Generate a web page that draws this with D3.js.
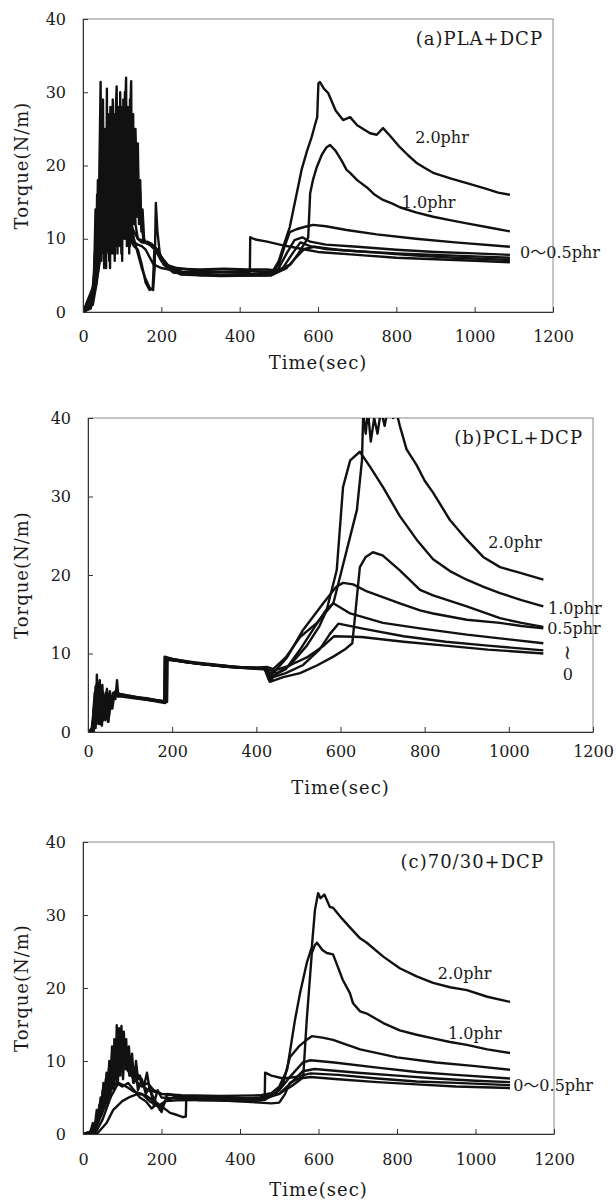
<!DOCTYPE html>
<html>
<head>
<meta charset="utf-8">
<script src="https://cdn.jsdelivr.net/npm/d3@7"></script>
<style>
  body { margin: 0; background: #fff; }
  svg text { font-family: "DejaVu Serif", "Noto Sans CJK JP", serif; fill: #1a1a1a; }
  .axis text { font-size: 16px; }
  .axis path, .axis line { stroke: #333; }
  .frame { fill: none; stroke: #8a8a8a; stroke-width: 1; }
  .curve { fill: none; stroke: #111; stroke-width: 2.4; stroke-linejoin: round; }
  .axis-title { font-size: 18px; letter-spacing: 1px; }
  .panel-title { font-size: 18px; letter-spacing: 1px; }
  .note { font-size: 16px; }
  .note.squiggle { font-size: 20px; }
</style>
</head>
<body>
<svg id="chart" width="616" height="1200"></svg>
<script>
// tick labels shared by all three panels
const timeTicks = [0, 200, 400, 600, 800, 1000, 1200];
const torqueTicks = [0, 10, 20, 30, 40];

// (a) PLA + DCP : [time (sec), torque (N/m)]
const plaDcp20 = [[0,0],[10,0.3],[20,1.5],[26,3],[30,8],[33,4],[36,16],[39,6],[42,20],[45,31.4],[47,7],[50,22],[53,8],[56,24],[59,6],[61,30.5],[63,9],[66,25],[69,6],[72,27],[75,8],[78,26],[81,7],[84,28],[86,30.8],[88,8],[91,27],[94,9],[97,28],[100,7],[103,29],[106,10],[108,28],[110,32],[112,9],[115,27],[118,8],[121,28],[123,31.5],[125,10],[128,27],[131,12],[134,25],[137,13],[140,23],[143,12],[146,18],[149,11],[152,14],[156,10],[160,9.5],[170,9.2],[180,8.7],[190,8],[200,7],[215,6.3],[240,5.9],[300,5.8],[360,5.9],[420,5.8],[470,5.8],[486,5.7],[500,7],[515,9.5],[528,11.6],[543,15.5],[558,19.4],[572,22],[584,23.9],[592,25.5],[598,26.6],[601,31.2],[605,31.4],[615,30.5],[626,29.9],[645,27.5],[664,26.2],[682,26.6],[700,25.5],[733,24.4],[750,24.2],[766,25.1],[785,24],[809,22.5],[830,21.4],[853,20.3],[875,19.6],[894,19],[940,18.2],[980,17.6],[1030,16.8],[1060,16.3],[1090,16]];
const plaDcp10 = [[0,0],[20,0.5],[28,4],[32,14],[35,5],[38,18],[41,8],[44,22],[48,10],[51,29],[54,6],[57,25],[60,9],[64,27],[67,7],[70,28],[73,10],[76,29],[79,8],[82,27],[85,9],[89,28],[92,11],[95,30],[98,8],[101,27],[104,11],[107,30],[111,10],[114,28],[117,12],[120,29],[124,13],[127,26],[130,14],[133,24],[136,15],[139,22],[142,14],[145,17],[150,12],[155,9.5],[165,9.6],[175,9.3],[185,8.8],[195,8],[210,6.5],[240,6],[300,5.6],[360,5.5],[420,5.6],[470,5.5],[500,5.8],[530,6.5],[550,8],[565,9.3],[575,10.2],[580,16.2],[587,18],[597,19.8],[610,21.5],[622,22.5],[631,22.8],[645,22],[660,20.7],[673,19.4],[682,19],[700,18],[725,17],[745,16],[766,15.3],[790,14.8],[809,14.3],[850,13.6],[894,13],[940,12.5],[980,12.1],[1040,11.5],[1090,11]];
const plaDcp05 = [[0,0],[20,1],[30,6],[34,12],[38,8],[42,15],[46,10],[50,18],[54,12],[58,21],[62,14],[66,23],[70,15],[74,24],[78,16],[82,25],[86,17],[90,24],[94,18],[98,26],[102,17],[106,25],[110,18],[114,24],[118,16],[122,22],[126,14],[130,18],[134,12],[140,10],[150,9.5],[160,9.4],[170,9.2],[180,9],[190,8.5],[200,7.5],[220,6.2],[260,5.3],[350,5.1],[430,5.2],[480,5.4],[500,6.5],[515,9],[528,10.9],[545,11.3],[565,11.6],[587,11.9],[620,11.7],[673,11.2],[750,10.6],[850,10],[950,9.5],[1090,8.9]];
const plaDcp03 = [[0,0],[20,0.8],[30,5],[40,10],[44,14],[48,9],[52,17],[56,11],[60,20],[64,12],[68,22],[72,13],[76,21],[80,12],[84,22],[88,14],[92,20],[96,12],[100,19],[104,11],[108,17],[112,10],[116,15],[120,9],[124,12],[130,10],[140,8],[150,6],[160,4.5],[170,3.3],[179,3],[183,6],[186,14.9],[190,11],[196,8],[205,6.5],[230,5.4],[300,5],[400,5.1],[470,5],[500,6],[520,8],[540,9.8],[560,10.2],[580,9.6],[620,9.2],[700,8.9],[800,8.5],[900,8.2],[1000,8],[1090,7.8]];
const plaDcp02 = [[0,0],[25,1],[35,4],[45,8],[55,12],[65,9],[75,15],[85,11],[95,16],[105,12],[115,14],[120,10],[130,9],[140,8.5],[150,6.5],[160,4],[170,3],[178,3.2],[182,8.3],[190,8.5],[200,7.5],[220,6],[250,5.1],[350,4.9],[480,5],[510,6],[535,8],[555,9.5],[580,9],[620,8.6],[700,8.3],[800,8],[900,7.8],[1000,7.6],[1090,7.4]];
const plaDcp01 = [[0,0],[30,4],[40,8],[50,13],[60,10],[70,16],[80,12],[90,17],[100,13],[110,14],[120,12],[130,11],[140,10],[150,9.8],[160,9.5],[170,9.3],[180,9],[190,8],[200,7],[220,6],[260,5.2],[350,5],[480,5],[520,6],[545,7.5],[565,8.6],[590,8.9],[650,8.5],[750,8.1],[850,7.7],[950,7.4],[1090,7.1]];
const plaDcp00 = [[0,0],[30,3],[40,6],[50,10],[60,8],[70,12],[80,9],[90,12],[100,10],[110,11],[120,10],[130,9.5],[140,9.2],[150,9],[160,8.5],[170,7.5],[180,6.5],[200,6],[250,5.5],[300,5.4],[426,5.5],[427,10.2],[440,9.9],[470,9.6],[511,9.1],[540,8.8],[570,8.5],[600,8.2],[700,7.8],[800,7.4],[900,7.2],[1000,7],[1090,6.8]];

// (b) PCL + DCP
const pclDcp20 = [[0,0],[8,0],[12,2],[16,5],[19,1],[21,7.3],[24,3],[28,6.6],[31,2],[35,5],[39,3],[43,4.5],[48,1.3],[52,4],[56,3.5],[60,5],[65,4.2],[69,6.6],[72,4.5],[80,4.8],[100,4.6],[120,4.4],[140,4.3],[160,4.1],[181,3.9],[182,9.6],[200,9.3],[250,8.9],[300,8.6],[350,8.3],[400,8.2],[425,8.3],[440,8],[470,9.5],[504,12.1],[544,13.9],[583,16.4],[615,23.2],[639,28.3],[651,34.6],[654,40.5],[660,38],[665,41],[672,37],[680,40],[688,38],[696,41],[705,39],[715,42],[725,40],[734,40.5],[741,39],[757,36],[781,34],[800,32],[820,30.5],[860,27],[900,24.5],[939,22.3],[979,21],[1019,20.4],[1082,19.4]];
const pclDcp10 = [[0,0],[10,0],[14,3],[17,1],[20,6],[23,2.5],[27,5.5],[30,1.5],[34,6],[38,2],[42,5],[46,2.5],[50,4.5],[55,3],[60,4.8],[70,4.9],[90,4.7],[110,4.5],[130,4.3],[150,4.1],[170,3.9],[187,3.8],[188,9.4],[210,9.1],[260,8.7],[310,8.5],[360,8.2],[410,8.1],[430,7.9],[450,7.5],[480,8.5],[520,11],[550,13.5],[567,15.5],[591,20.6],[606,31.2],[623,34.6],[646,35.7],[670,33.8],[701,31.2],[741,27.5],[781,24.5],[820,22],[860,20.5],[900,19.4],[940,18.5],[979,17.7],[1030,16.8],[1082,16]];
const pclDcp05 = [[0,0],[12,0],[15,4],[18,0.5],[22,5],[26,1],[30,4.5],[33,0.8],[37,3.8],[41,1.5],[45,5.5],[50,2],[54,4.2],[58,3],[63,5],[75,4.6],[95,4.5],[120,4.3],[150,4],[183,3.7],[184,9.5],[200,9.2],[250,8.8],[300,8.5],[350,8.2],[420,8.1],[432,6.4],[464,7],[504,7.5],[545,8.5],[583,9.6],[610,10.5],[628,11.3],[635,15],[646,21],[660,22.3],[677,22.9],[700,22.5],[741,20.6],[789,18.1],[820,17.4],[900,16],[979,14.5],[1030,13.9],[1082,13.4]];
const pclDcp03 = [[0,0],[10,0.5],[14,2.5],[18,5.8],[21,2],[25,4.5],[29,1],[33,5.2],[37,2.2],[42,4.8],[47,3],[52,5.2],[57,3.8],[64,4.9],[80,4.7],[110,4.4],[140,4.2],[170,4],[186,3.9],[187,9.2],[220,9],[270,8.7],[320,8.4],[380,8.2],[420,8.2],[432,7.5],[440,7.5],[473,9.5],[511,13],[559,16.4],[590,18.5],[606,19],[630,18.8],[663,17.9],[741,16.4],[789,15.5],[820,15.1],[900,14.3],[979,13.9],[1030,13.5],[1082,13.2]];
const pclDcp02 = [[0,0],[11,0],[15,3.5],[19,1.5],[23,6.2],[27,2.5],[31,4],[36,1.8],[40,4.6],[44,2],[48,1.3],[53,3.8],[58,4.4],[65,5.2],[75,4.8],[100,4.5],[130,4.3],[160,4],[185,3.9],[186,9.4],[230,8.9],[280,8.6],[330,8.3],[380,8.1],[420,8],[430,6.6],[440,7.2],[470,8],[504,10.5],[540,13.5],[565,15.5],[583,16.4],[623,15.1],[701,13.9],[789,13.2],[900,12.4],[1000,11.8],[1082,11.3]];
const pclDcp01 = [[0,0],[13,0],[17,2],[21,4.8],[25,1.2],[29,3.5],[33,2.5],[38,4.4],[43,3.2],[49,4.6],[55,3.6],[62,4.7],[80,4.6],[110,4.4],[140,4.2],[170,4],[182,3.9],[183,9.5],[230,9],[280,8.6],[330,8.4],[380,8.2],[425,8],[435,6.5],[440,7],[470,7.5],[510,8.5],[550,10.5],[575,12.5],[595,13.8],[650,13.2],[750,12.2],[850,11.5],[950,11],[1082,10.4]];
const pclDcp00 = [[0,0],[12,0],[16,3],[20,1],[24,5],[28,2],[32,3.8],[36,1.5],[40,4],[45,2.8],[50,4.8],[56,3.5],[62,4.6],[80,4.5],[110,4.3],[140,4.1],[170,3.9],[188,3.9],[189,9.3],[230,8.9],[280,8.6],[330,8.3],[380,8.2],[420,8.1],[432,6.8],[440,7.8],[480,8.5],[520,9.5],[560,11],[585,12.2],[650,12.1],[750,11.5],[850,11],[950,10.5],[1082,10]];

// (c) 70/30 blend + DCP
const blendDcp20 = [[0,0],[15,0],[20,0.5],[25,1.5],[30,1],[35,3.3],[40,2.5],[45,5],[48,3],[52,7],[55,4],[60,8.4],[63,5],[67,10],[70,6],[74,12],[77,7],[80,13],[83,8],[86,14.9],[89,7],[92,14.5],[95,9],[98,14.8],[101,8],[104,14],[107,10],[110,13],[113,9],[117,12],[121,8],[125,11],[130,7],[135,10],[140,7.5],[145,8],[155,6.5],[165,6],[180,5.8],[200,5.5],[250,5.3],[350,5.2],[450,5.3],[480,5.6],[500,6.5],[520,8.8],[540,15.6],[553,19.3],[570,23.4],[583,25.6],[591,30.7],[599,33],[605,32.3],[615,32.8],[629,31.1],[637,31],[660,29.5],[680,28.3],[706,26.8],[723,26.2],[765,24.3],[807,22.7],[850,21.6],[892,20.7],[935,20.1],[978,19.7],[1030,18.8],[1088,18.1]];
const blendDcp10 = [[0,0],[20,0],[30,1.5],[36,2],[42,4],[46,2.5],[50,6],[54,3.5],[58,7.5],[62,4],[66,9],[70,5],[74,11],[78,6],[82,12.5],[86,7],[90,13.5],[94,8],[98,13],[102,7.5],[106,12.5],[110,9],[114,11.5],[118,8],[122,10.5],[128,7],[134,9],[140,6],[150,7.5],[160,5.5],[170,6.5],[180,4],[190,6],[200,5],[260,4.8],[350,4.7],[450,5],[500,5.5],[530,6.5],[550,7.3],[561,7.8],[570,15.6],[583,24.8],[591,25.9],[596,26.2],[610,25.2],[621,24.8],[637,24.6],[650,22.8],[662,21.1],[680,19.3],[688,17.9],[706,16.8],[723,16.5],[765,15.2],[807,14.2],[850,13.6],[892,13.1],[935,12.6],[978,12.2],[1030,11.6],[1088,11.1]];
const blendDcp05 = [[0,0],[30,0.5],[45,3],[55,4],[65,6],[75,8],[85,9.5],[95,10.5],[105,11],[115,10],[125,9.5],[135,8.5],[145,7.5],[155,6.5],[163,8.4],[170,6],[180,5],[196,3.3],[210,4.5],[230,5],[300,5],[400,4.9],[450,4.8],[490,5.5],[510,7],[527,10.5],[550,12],[570,12.9],[583,13.4],[610,13.2],[637,12.9],[706,11.6],[800,10.5],[900,9.8],[1000,9.3],[1088,8.8]];
const blendDcp03 = [[0,0],[25,0],[40,2],[55,4],[70,6],[85,7],[100,6.5],[115,7],[130,6],[145,5],[160,4.5],[175,3.5],[190,4.2],[200,3],[215,5.5],[240,5.2],[350,4.8],[450,4.6],[464,4.7],[500,6],[530,8],[560,9.8],[580,10.1],[640,9.8],[750,9.1],[850,8.5],[950,8.1],[1088,7.6]];
const blendDcp02 = [[0,0],[35,0],[60,1.5],[77,3.3],[100,4.5],[120,5.1],[140,5.5],[160,5.3],[180,4.5],[200,3.8],[222,2.9],[240,2.6],[255,2.3],[262,2.4],[263,4.8],[300,4.6],[400,4.5],[450,4.6],[500,5.5],[530,7],[560,8.6],[590,8.9],[700,8.4],[800,8],[900,7.6],[1000,7.3],[1088,7.1]];
const blendDcp01 = [[0,0],[30,0],[50,2],[70,5],[90,7],[110,6.5],[130,5.8],[150,5.5],[170,4.5],[190,3.8],[210,4.5],[240,4.6],[350,4.7],[463,4.8],[464,8.4],[480,8],[510,7.6],[540,7.8],[580,8.3],[650,8.1],[750,7.6],[850,7.2],[950,7],[1088,6.7]];
const blendDcp00 = [[0,0],[30,0.5],[50,3],[70,6],[90,8.5],[110,9],[130,7.5],[150,6.5],[165,7],[180,6],[200,5.5],[250,5.2],[350,4.6],[450,4.3],[480,4.2],[500,4.3],[515,5.5],[527,7],[550,7.6],[580,7.8],[650,7.5],[750,7.1],[850,6.8],[950,6.5],[1088,6.3]];

// curve annotations: [text, time, torque]; '∼' is drawn turned upright
const plaNotes = [['2.0phr', 848, 23.9], ['1.0phr', 814, 15], ['0～0.5phr', 1116, 8.2]];
const pclNotes = [['2.0phr', 951, 24.2], ['1.0phr', 1093, 15.8], ['0.5phr', 1091, 13.2], ['∼', 1140, 10.1], ['0', 1140, 7.3]];
const blendNotes = [['2.0phr', 904, 22], ['1.0phr', 930, 13.8], ['0～0.5phr', 1096, 6.7]];


class torquePanel {

    constructor(_config, _series, _notes) {
      this.config = {
        parentElement: _config.parentElement,
        id: _config.id,
        left: _config.left,
        top: _config.top,
        width: _config.width,
        height: _config.height,
        tickGap: _config.tickGap || 20,
        titleGap: _config.titleGap || 48,
        title: _config.title
      }
      this.series = _series;
      this.notes = _notes;
      this.initVis();
    }

    initVis() {
        let vis = this;

        vis.xScale = d3.scaleLinear()
            .domain([0, 1200])
            .range([0, vis.config.width]);

        vis.yScale = d3.scaleLinear()
            .domain([0, 40])
            .range([vis.config.height, 0]);

        // ticks point into the plot
        vis.xAxis = d3.axisBottom(vis.xScale)
            .tickValues(timeTicks)
            .tickFormat(d3.format('d'))
            .tickSizeInner(-5)
            .tickSizeOuter(0)
            .tickPadding(vis.config.tickGap);

        vis.yAxis = d3.axisLeft(vis.yScale)
            .tickValues(torqueTicks)
            .tickFormat(d3.format('d'))
            .tickSizeInner(-5)
            .tickSizeOuter(0)
            .tickPadding(17);

        vis.chart = d3.select(vis.config.parentElement).append('g')
            .attr('transform', `translate(${vis.config.left},${vis.config.top})`);

        vis.chart.append('clipPath')
            .attr('id', 'clip-' + vis.config.id)
          .append('rect')
            .attr('width', vis.config.width)
            .attr('height', vis.config.height);

        vis.line = d3.line()
            .x(d => vis.xScale(d[0]))
            .y(d => vis.yScale(d[1]));

        vis.renderVis();
    }

    renderVis() {
        let vis = this;

        vis.chart.append('rect')
            .attr('class', 'frame')
            .attr('width', vis.config.width)
            .attr('height', vis.config.height);

        vis.chart.append('g')
            .attr('clip-path', `url(#clip-${vis.config.id})`)
          .selectAll('path')
          .data(vis.series)
          .enter().append('path')
            .attr('class', 'curve')
            .attr('d', d => vis.line(d));

        vis.chart.append('g')
            .attr('class', 'axis x-axis')
            .attr('transform', `translate(0,${vis.config.height})`)
            .call(vis.xAxis);

        vis.chart.append('g')
            .attr('class', 'axis y-axis')
            .call(vis.yAxis);

        vis.chart.append('text')
            .attr('class', 'axis-title')
            .attr('x', vis.config.width / 2)
            .attr('y', vis.config.height + vis.config.titleGap)
            .attr('text-anchor', 'middle')
            .text('Time(sec)');

        vis.chart.append('text')
            .attr('class', 'axis-title')
            .attr('transform', `translate(${22 - vis.config.left},${vis.config.height / 2}) rotate(-90)`)
            .attr('text-anchor', 'middle')
            .attr('dy', '0.35em')
            .text('Torque(N/m)');

        vis.chart.append('text')
            .attr('class', 'panel-title')
            .attr('x', vis.config.width - 10)
            .attr('y', 20)
            .attr('dy', '0.35em')
            .attr('text-anchor', 'end')
            .text(vis.config.title);

        vis.chart.selectAll('.note')
          .data(vis.notes)
          .enter().append('text')
            .attr('class', d => d[0] === '∼' ? 'note squiggle' : 'note')
            .attr('transform', d => `translate(${vis.xScale(d[1])},${vis.yScale(d[2])})` + (d[0] === '∼' ? ' rotate(90)' : ''))
            .attr('dy', '0.35em')
            .attr('text-anchor', d => d[0].length < 2 ? 'middle' : 'start')
            .text(d => d[0]);
    }
}

new torquePanel({parentElement: '#chart', id: 'a', left: 83, top: 19, width: 470, height: 293,
    tickGap: 19, titleGap: 57, title: '(a)PLA+DCP'},
  [plaDcp00, plaDcp01, plaDcp02, plaDcp03, plaDcp05, plaDcp10, plaDcp20], plaNotes);

new torquePanel({parentElement: '#chart', id: 'b', left: 88, top: 418, width: 505, height: 314,
    tickGap: 14, titleGap: 62, title: '(b)PCL+DCP'},
  [pclDcp00, pclDcp01, pclDcp02, pclDcp03, pclDcp05, pclDcp10, pclDcp20], pclNotes);

new torquePanel({parentElement: '#chart', id: 'c', left: 83, top: 842, width: 471, height: 292,
    tickGap: 20, titleGap: 62, title: '(c)70/30+DCP'},
  [blendDcp00, blendDcp01, blendDcp02, blendDcp03, blendDcp05, blendDcp10, blendDcp20], blendNotes);
</script>
</body>
</html>
